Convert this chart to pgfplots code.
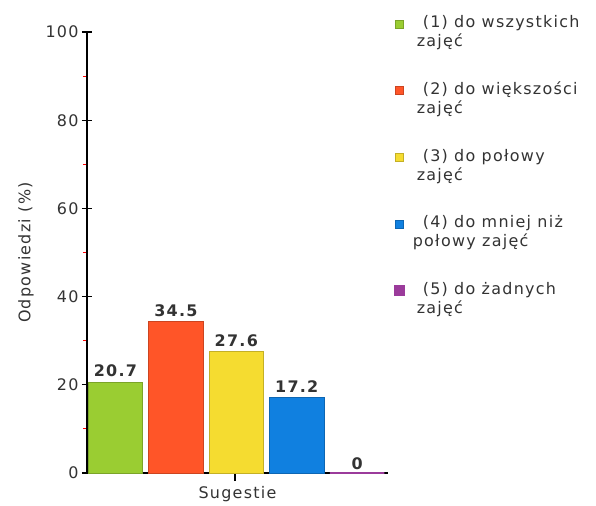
\documentclass[border=0pt]{standalone}
\usepackage{pgfplots}
\pgfplotsset{compat=1.18}
\usepackage{fontspec}
\setmainfont{DejaVu Sans}[LetterSpace=8]
\definecolor{cgreen}{HTML}{9ACD32}
\definecolor{cred}{HTML}{FF5528}
\definecolor{cyellow}{HTML}{F5DC30}
\definecolor{cblue}{HTML}{1080E0}
\definecolor{cpurple}{HTML}{9B3B9B}
\definecolor{txt}{HTML}{333333}
\begin{document}
\begin{tikzpicture}[x=1bp,y=1bp]
\fill[white] (-87bp,-33bp) rectangle (509bp,473bp);
\useasboundingbox (-87bp,-33bp) rectangle (509bp,473bp);
\begin{axis}[
  at={(0,0)}, anchor=origin,
  scale only axis,
  width=301bp, height=441bp,
  xmin=0, xmax=4.98,
  ymin=0, ymax=100,
  axis lines=left,
  axis line style={-, black, line width=1.3pt},
  ytick={0,20,40,60,80,100},
  minor ytick={10,30,50,70,90},
  xtick={2.45},
  xticklabels={},
  tick align=center,
  major tick length=10bp,
  minor tick length=4bp,
  tick style={black, line width=1.2pt},
  minor tick style={red, line width=0.9pt, xshift=-2bp},
  x tick style={yshift=-3bp},
  /pgf/number format/assume math mode=true,
  tick label style={font=\fontsize{16}{18}\selectfont, text=txt},
  ylabel={Odpowiedzi (\%)},
  ylabel style={font=\fontsize{16}{18}\selectfont, text=txt, yshift=5bp},
  xlabel={Sugestie},
  xlabel style={font=\fontsize{16}{18}\selectfont, text=txt, yshift=2bp},
  nodes near coords,
  every node near coord/.append style={font=\bfseries\fontsize{16}{18}\selectfont, text=txt, yshift=1bp},
  legend style={at={(rel axis cs:1.01,1.047)}, anchor=north west, draw=none, fill=none,
    font=\fontsize{16}{19}\selectfont, text=txt, row sep=30bp,
    cells={anchor=north west, align=left}},
  legend image code/.code={\fill[#1] (0bp,4bp) rectangle (8bp,12bp);},
  legend cell align=left,
  clip=false,
]
\addplot[ybar, bar width=0.9, bar shift=0pt, fill=cgreen, draw=cgreen!80!black] coordinates {(0.47,20.7)};
\addlegendentry{\hspace{16bp}(1) do wszystkich\\\hspace{10bp}zajęć}
\addplot[ybar, bar width=0.9, bar shift=0pt, fill=cred, draw=cred!80!black] coordinates {(1.47,34.5)};
\addlegendentry{\hspace{16bp}(2) do większości\\\hspace{10bp}zajęć}
\addplot[ybar, bar width=0.9, bar shift=0pt, fill=cyellow, draw=cyellow!80!black] coordinates {(2.47,27.6)};
\addlegendentry{\hspace{16bp}(3) do połowy\\\hspace{10bp}zajęć}
\addplot[ybar, bar width=0.9, bar shift=0pt, fill=cblue, draw=cblue!80!black] coordinates {(3.47,17.2)};
\addlegendentry{\hspace{16bp}(4) do mniej niż\\\hspace{6bp}połowy zajęć}
\addplot[ybar, bar width=0.9, bar shift=0pt, fill=cpurple, draw=cpurple, line width=2.6pt,
  every node near coord/.append style={yshift=-2bp}] coordinates {(4.47,0)};
\addlegendentry{\hspace{16bp}(5) do żadnych\\\hspace{10bp}zajęć}
\end{axis}
\end{tikzpicture}
\end{document}
